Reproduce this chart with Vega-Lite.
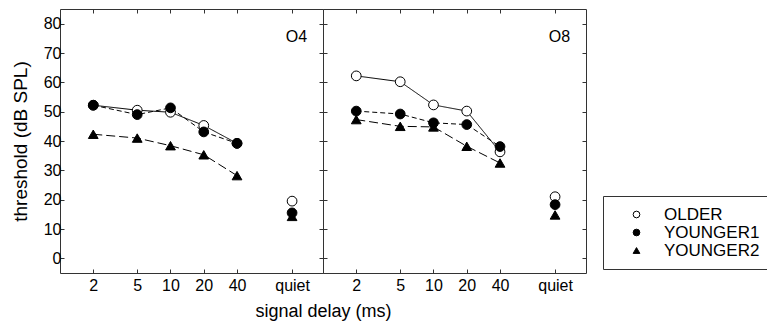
{
  "$schema": "https://vega.github.io/schema/vega-lite/v6.json",
  "background": "white",
  "padding": {"left": 10, "top": 8, "right": 0, "bottom": 5},
  "spacing": 0,
  "bounds": "flush",
  "datasets": {
    "d": [
      {"panel": "O4", "group": "OLDER", "delay": "2", "threshold": 52.2},
      {"panel": "O4", "group": "OLDER", "delay": "5", "threshold": 50.5},
      {"panel": "O4", "group": "OLDER", "delay": "10", "threshold": 49.8},
      {"panel": "O4", "group": "OLDER", "delay": "20", "threshold": 45.3},
      {"panel": "O4", "group": "OLDER", "delay": "40", "threshold": 39.2},
      {"panel": "O4", "group": "OLDER", "delay": "quiet", "threshold": 19.5},
      {"panel": "O4", "group": "YOUNGER1", "delay": "2", "threshold": 52.2},
      {"panel": "O4", "group": "YOUNGER1", "delay": "5", "threshold": 49.0},
      {"panel": "O4", "group": "YOUNGER1", "delay": "10", "threshold": 51.3},
      {"panel": "O4", "group": "YOUNGER1", "delay": "20", "threshold": 43.1},
      {"panel": "O4", "group": "YOUNGER1", "delay": "40", "threshold": 39.2},
      {"panel": "O4", "group": "YOUNGER1", "delay": "quiet", "threshold": 15.5},
      {"panel": "O4", "group": "YOUNGER2", "delay": "2", "threshold": 42.3},
      {"panel": "O4", "group": "YOUNGER2", "delay": "5", "threshold": 41.0},
      {"panel": "O4", "group": "YOUNGER2", "delay": "10", "threshold": 38.4},
      {"panel": "O4", "group": "YOUNGER2", "delay": "20", "threshold": 35.3},
      {"panel": "O4", "group": "YOUNGER2", "delay": "40", "threshold": 28.2},
      {"panel": "O4", "group": "YOUNGER2", "delay": "quiet", "threshold": 14.3},
      {"panel": "O8", "group": "OLDER", "delay": "2", "threshold": 62.2},
      {"panel": "O8", "group": "OLDER", "delay": "5", "threshold": 60.2},
      {"panel": "O8", "group": "OLDER", "delay": "10", "threshold": 52.3},
      {"panel": "O8", "group": "OLDER", "delay": "20", "threshold": 50.2},
      {"panel": "O8", "group": "OLDER", "delay": "40", "threshold": 36.3},
      {"panel": "O8", "group": "OLDER", "delay": "quiet", "threshold": 21.0},
      {"panel": "O8", "group": "YOUNGER1", "delay": "2", "threshold": 50.2},
      {"panel": "O8", "group": "YOUNGER1", "delay": "5", "threshold": 49.2},
      {"panel": "O8", "group": "YOUNGER1", "delay": "10", "threshold": 46.2},
      {"panel": "O8", "group": "YOUNGER1", "delay": "20", "threshold": 45.6},
      {"panel": "O8", "group": "YOUNGER1", "delay": "40", "threshold": 38.1},
      {"panel": "O8", "group": "YOUNGER1", "delay": "quiet", "threshold": 18.3},
      {"panel": "O8", "group": "YOUNGER2", "delay": "2", "threshold": 47.3},
      {"panel": "O8", "group": "YOUNGER2", "delay": "5", "threshold": 45.0},
      {"panel": "O8", "group": "YOUNGER2", "delay": "10", "threshold": 44.8},
      {"panel": "O8", "group": "YOUNGER2", "delay": "20", "threshold": 38.2},
      {"panel": "O8", "group": "YOUNGER2", "delay": "40", "threshold": 32.5},
      {"panel": "O8", "group": "YOUNGER2", "delay": "quiet", "threshold": 14.8}
    ]
  },
  "hconcat": [
    {
      "width": 263,
      "height": 264,
      "data": {"name": "d"},
      "transform": [
        {"filter": "datum.panel === 'O4'"},
        {"calculate": "datum.delay === 'quiet' ? 126 : toNumber(datum.delay)", "as": "xpos"}
      ],
      "layer": [
        {
          "transform": [{"filter": "datum.delay !== 'quiet'"}],
          "mark": {"type": "line", "color": "black", "strokeWidth": 1},
          "encoding": {
            "x": {"field": "xpos", "type": "quantitative", "scale": {"type": "log", "domain": [1, 240], "nice": false},
                  "axis": {"orient": "bottom", "values": [2, 5, 10, 20, 40, 126], "labelExpr": "datum.value > 100 ? 'quiet' : datum.label", "title": "signal delay (ms)", "titleAnchor": "end", "titleAlign": "center", "labelPadding": 8, "titlePadding": 9}},
            "y": {"field": "threshold", "type": "quantitative", "scale": {"domain": [-5, 85], "nice": false, "zero": false},
                  "axis": {"orient": "left", "values": [0, 10, 20, 30, 40, 50, 60, 70, 80], "title": "threshold (dB SPL)", "titleFontSize": 19, "labelPadding": 3, "titlePadding": 13}},
            "detail": {"field": "group"},
            "strokeDash": {"field": "group", "type": "nominal", "scale": {"domain": ["YOUNGER2", "YOUNGER1", "OLDER"], "range": [[9, 4], [5, 3], [1, 0]]}, "legend": null}
          }
        },
        {
          "mark": {"type": "point", "filled": true, "strokeWidth": 1, "size": 95, "opacity": 1},
          "encoding": {
            "x": {"field": "xpos", "type": "quantitative", "scale": {"type": "log", "domain": [1, 240], "nice": false}, "axis": null},
            "y": {"field": "threshold", "type": "quantitative", "scale": {"domain": [-5, 85], "nice": false, "zero": false}, "axis": null},
            "shape": {"field": "group", "type": "nominal", "scale": {"domain": ["OLDER", "YOUNGER1", "YOUNGER2"], "range": ["circle", "circle", "triangle-up"]}},
            "fill": {"field": "group", "type": "nominal", "scale": {"domain": ["OLDER", "YOUNGER1", "YOUNGER2"], "range": ["white", "black", "black"]}},
            "stroke": {"field": "group", "type": "nominal", "scale": {"domain": ["OLDER", "YOUNGER1", "YOUNGER2"], "range": ["black", "black", "black"]}}
          }
        },
        {
          "transform": [{"filter": "datum.delay === '2' && datum.group === 'OLDER'"}],
          "mark": {"type": "text", "font": "Liberation Sans", "fontSize": 16, "align": "center", "baseline": "middle", "color": "black"},
          "encoding": {
            "x": {"datum": 138, "type": "quantitative", "scale": {"type": "log", "domain": [1, 240], "nice": false},
                  "axis": {"orient": "top", "values": [2, 5, 10, 20, 40, 126], "labels": false, "title": null}},
            "y": {"datum": 75.4, "type": "quantitative", "scale": {"domain": [-5, 85], "nice": false, "zero": false},
                  "axis": {"orient": "right", "values": [0, 10, 20, 30, 40, 50, 60, 70, 80], "labels": false, "title": null}},
            "text": {"field": "panel"}
          }
        }
      ]
    },
    {
      "width": 263,
      "height": 264,
      "data": {"name": "d"},
      "transform": [
        {"filter": "datum.panel === 'O8'"},
        {"calculate": "datum.delay === 'quiet' ? 126 : toNumber(datum.delay)", "as": "xpos"}
      ],
      "layer": [
        {
          "transform": [{"filter": "datum.delay !== 'quiet'"}],
          "mark": {"type": "line", "color": "black", "strokeWidth": 1},
          "encoding": {
            "x": {"field": "xpos", "type": "quantitative", "scale": {"type": "log", "domain": [1, 240], "nice": false},
                  "axis": {"orient": "bottom", "values": [2, 5, 10, 20, 40, 126], "labelExpr": "datum.value > 100 ? 'quiet' : datum.label", "title": null, "labelPadding": 8}},
            "y": {"field": "threshold", "type": "quantitative", "scale": {"domain": [-5, 85], "nice": false, "zero": false},
                  "axis": {"orient": "left", "values": [0, 10, 20, 30, 40, 50, 60, 70, 80], "labels": false, "title": null}},
            "detail": {"field": "group"},
            "strokeDash": {"field": "group", "type": "nominal", "scale": {"domain": ["YOUNGER2", "YOUNGER1", "OLDER"], "range": [[9, 4], [5, 3], [1, 0]]}, "legend": null}
          }
        },
        {
          "mark": {"type": "point", "filled": true, "strokeWidth": 1, "size": 95, "opacity": 1},
          "encoding": {
            "x": {"field": "xpos", "type": "quantitative", "scale": {"type": "log", "domain": [1, 240], "nice": false}, "axis": null},
            "y": {"field": "threshold", "type": "quantitative", "scale": {"domain": [-5, 85], "nice": false, "zero": false}, "axis": null},
            "shape": {"field": "group", "type": "nominal", "scale": {"domain": ["OLDER", "YOUNGER1", "YOUNGER2"], "range": ["circle", "circle", "triangle-up"]}},
            "fill": {"field": "group", "type": "nominal", "scale": {"domain": ["OLDER", "YOUNGER1", "YOUNGER2"], "range": ["white", "black", "black"]}},
            "stroke": {"field": "group", "type": "nominal", "scale": {"domain": ["OLDER", "YOUNGER1", "YOUNGER2"], "range": ["black", "black", "black"]}}
          }
        },
        {
          "transform": [{"filter": "datum.delay === '2' && datum.group === 'OLDER'"}],
          "mark": {"type": "text", "font": "Liberation Sans", "fontSize": 16, "align": "center", "baseline": "middle", "color": "black"},
          "encoding": {
            "x": {"datum": 138, "type": "quantitative", "scale": {"type": "log", "domain": [1, 240], "nice": false},
                  "axis": {"orient": "top", "values": [2, 5, 10, 20, 40, 126], "labels": false, "title": null}},
            "y": {"datum": 75.4, "type": "quantitative", "scale": {"domain": [-5, 85], "nice": false, "zero": false},
                  "axis": {"orient": "right", "values": [0, 10, 20, 30, 40, 50, 60, 70, 80], "labels": false, "title": null}},
            "text": {"field": "panel"}
          }
        }
      ]
    }
  ],
  "config": {
    "view": {"stroke": "#333", "strokeWidth": 1},
    "axis": {"domain": false, "grid": false, "ticks": true, "tickColor": "#333", "tickSize": -4,
             "labelFont": "Liberation Sans", "labelFontSize": 16, "labelColor": "black",
             "titleFont": "Liberation Sans", "titleFontSize": 18, "titleFontWeight": "normal", "titleColor": "black"},
    "legend": {"orient": "none", "legendX": 543, "legendY": 187, "title": null,
               "labelFont": "Liberation Sans", "labelFontSize": 17, "labelColor": "black",
               "strokeColor": "#333", "padding": 10, "symbolSize": 45, "symbolStrokeWidth": 1,
               "symbolOffset": 15, "labelOffset": 19, "rowPadding": 0, "cornerRadius": 0}
  }
}
